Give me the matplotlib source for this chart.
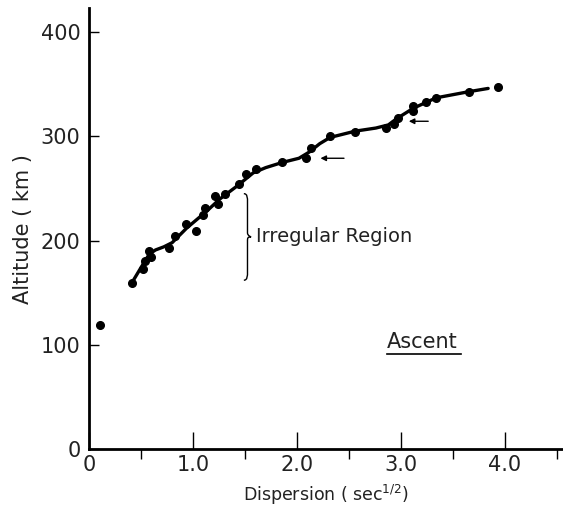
import numpy as np
import matplotlib
matplotlib.use("Agg")
import matplotlib.pyplot as plt
from matplotlib.path import Path
from matplotlib.patches import PathPatch

# measured points (dispersion sec^1/2, altitude km)
disp = [0.11, 0.41, 0.52, 0.54, 0.58, 0.60, 0.77, 0.83, 0.93, 1.03, 1.10, 1.12,
        1.21, 1.24, 1.31, 1.44, 1.51, 1.61, 1.86, 2.09, 2.14, 2.32, 2.56, 2.86,
        2.93, 2.97, 3.12, 3.12, 3.24, 3.34, 3.66, 3.93]
alt = [119, 159, 173, 180, 190, 184, 193, 204, 216, 209, 225, 231,
       243, 235, 245, 254, 264, 269, 275, 279, 289, 300, 304, 308,
       312, 318, 324, 329, 333, 337, 343, 347]

# hand-drawn fit through the points
fit_x = [0.41, 0.50, 0.58, 0.64, 0.72, 0.80, 0.94, 1.13, 1.26, 1.42, 1.58, 1.70,
         1.86, 2.02, 2.12, 2.22, 2.32, 2.56, 2.76, 2.88, 2.96, 3.12, 3.34, 3.66, 3.84]
fit_y = [159, 174, 187, 191, 194, 198, 212, 228, 240, 252, 265, 270,
         275, 279, 285, 293, 299, 305, 308, 311, 317, 327, 337, 343, 346]

xticks = [0, 1, 2, 3, 4]
xticklabels = ["0", "1.0", "2.0", "3.0", "4.0"]
yticks = [0, 100, 200, 300, 400]

plt.rcParams['font.family'] = ['DejaVu Sans']
txt = '#222222'

fig = plt.figure(figsize=(5.63, 5.12), dpi=100)
ax = fig.add_axes([0.158, 0.123, 0.842, 0.861])
ax.set_xlim(0, 4.56)
ax.set_ylim(0, 423)

for s in ['top', 'right']:
    ax.spines[s].set_visible(False)
for s in ['left', 'bottom']:
    ax.spines[s].set_linewidth(2)

ax.set_xticks(xticks)
ax.set_xticklabels(xticklabels)
ax.set_xticks([0.5, 1.5, 2.5, 3.5, 4.5], minor=True)
ax.set_yticks(yticks)
ax.tick_params(axis='both', direction='in', labelsize=15, width=1, labelcolor=txt)
ax.tick_params(axis='x', which='major', length=12, pad=4)
ax.tick_params(axis='x', which='minor', length=7, width=1)
ax.tick_params(axis='y', which='major', length=7, pad=6)

ax.set_xlabel("Dispersion ( sec$^{1/2}$)", fontsize=12.5, labelpad=6, color=txt)
ax.set_ylabel("Altitude ( km )", fontsize=15, labelpad=6, color=txt)

ax.plot(fit_x, fit_y, color='black', lw=2.4, solid_capstyle='round',
        solid_joinstyle='round')
ax.plot(disp, alt, 'o', color='black', ms=5.5)

# arrows pointing at features on the curve
ax.annotate("", xy=(2.20, 279), xytext=(2.48, 279),
            arrowprops=dict(arrowstyle='-|>', color='black', lw=1, mutation_scale=8))
ax.annotate("", xy=(3.05, 314.5), xytext=(3.29, 314.5),
            arrowprops=dict(arrowstyle='-|>', color='black', lw=1, mutation_scale=8))

# curly brace marking the irregular region
x0, w = 1.49, 0.07
ytop, ybot = 245, 162
ym = (ytop + ybot) / 2
verts = [(x0, ytop), (x0 + w / 2, ytop), (x0 + w / 2, ytop - 4), (x0 + w / 2, ytop - 8),
         (x0 + w / 2, ym + 4),
         (x0 + w / 2, ym + 1), (x0 + w, ym), (x0 + w, ym),
         (x0 + w / 2, ym), (x0 + w / 2, ym - 1), (x0 + w / 2, ym - 4),
         (x0 + w / 2, ybot + 8),
         (x0 + w / 2, ybot + 4), (x0 + w / 2, ybot), (x0, ybot)]
codes = [Path.MOVETO, Path.CURVE4, Path.CURVE4, Path.CURVE4,
         Path.LINETO,
         Path.CURVE4, Path.CURVE4, Path.CURVE4,
         Path.CURVE4, Path.CURVE4, Path.CURVE4,
         Path.LINETO,
         Path.CURVE4, Path.CURVE4, Path.CURVE4]
ax.add_patch(PathPatch(Path(verts, codes), fill=False, lw=1, color='black'))
ax.text(1.61, ym, "Irregular Region", fontsize=14, va='center', ha='left', color=txt)

ax.text(2.87, 103, "Ascent", fontsize=15, va='center', ha='left', color=txt)
ax.plot([2.87, 3.58], [91, 91], color='black', lw=1.2)

fig.savefig("out.png", dpi=100)
